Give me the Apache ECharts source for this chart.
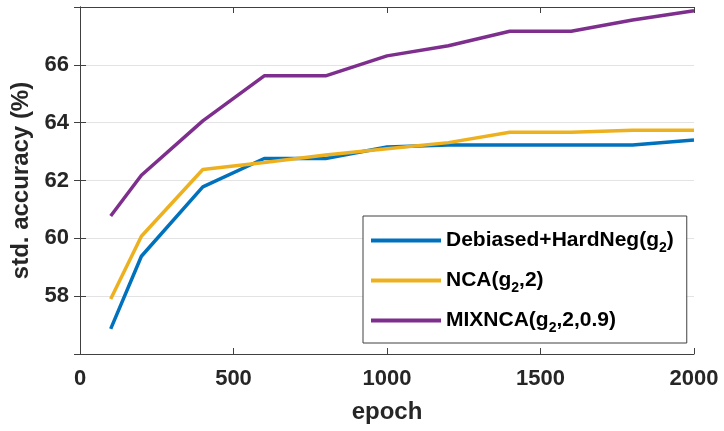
<!DOCTYPE html>
<html>
<head>
<meta charset="utf-8">
<script src="https://cdn.jsdelivr.net/npm/echarts@6/dist/echarts.min.js"></script>
<style>
  html, body { margin: 0; padding: 0; background: #fff; }
  #chart { width: 724px; height: 431px; }
</style>
</head>
<body>
<div id="chart"></div>
<script>
const epochs = [100, 200, 400, 600, 800, 1000, 1200, 1400, 1600, 1800, 2000];
const debiasedHardNeg = [56.87, 59.38, 61.78, 62.76, 62.76, 63.16, 63.23, 63.23, 63.23, 63.23, 63.40];
const nca = [57.90, 60.07, 62.38, 62.62, 62.88, 63.10, 63.31, 63.67, 63.67, 63.74, 63.74];
const mixNca = [60.77, 62.18, 64.06, 65.62, 65.62, 66.31, 66.66, 67.16, 67.16, 67.55, 67.87];

const seriesNames = ['Debiased+HardNeg(g2)', 'NCA(g2,2)', 'MIXNCA(g2,2,0.9)'];
const legendLabels = {
  'Debiased+HardNeg(g2)': '{n|Debiased+HardNeg(g}{s|2}{n|)}',
  'NCA(g2,2)': '{n|NCA(g}{s|2}{n|,2)}',
  'MIXNCA(g2,2,0.9)': '{n|MIXNCA(g}{s|2}{n|,2,0.9)}'
};
const colors = ['#0072BD', '#EDB120', '#7E2F8E'];

const font = 'Liberation Sans, Arial, Helvetica, sans-serif';
const axisColor = '#404040';
const textColor = '#262626';

const chart = echarts.init(document.getElementById('chart'));

function makeSeries(name, values, color) {
  return {
    name: name,
    type: 'line',
    data: epochs.map((e, i) => [e, values[i]]),
    showSymbol: false,
    symbol: 'none',
    lineStyle: { width: 3.5, color: color },
    itemStyle: { color: color },
    z: 3
  };
}

chart.setOption({
  animation: false,
  grid: { left: 80, right: 30, top: 7, bottom: 77 },
  xAxis: [
    {
      type: 'value',
      min: 0,
      max: 2000,
      interval: 500,
      name: 'epoch',
      nameLocation: 'middle',
      nameGap: 46,
      nameTextStyle: { fontFamily: font, fontWeight: 'bold', fontSize: 24, color: textColor },
      axisLine: { show: true, lineStyle: { color: axisColor, width: 1 } },
      axisTick: { show: true, inside: true, length: 6, lineStyle: { color: axisColor } },
      axisLabel: {
        fontFamily: font, fontWeight: 'bold', fontSize: 22, color: textColor, margin: 14,
        formatter: (v) => String(v)
      },
      splitLine: { show: false }
    },
    {
      type: 'value',
      position: 'top',
      min: 0,
      max: 2000,
      interval: 500,
      axisLine: { show: true, lineStyle: { color: axisColor, width: 1 } },
      axisTick: { show: true, inside: true, length: 6, lineStyle: { color: axisColor } },
      axisLabel: { show: false },
      splitLine: { show: false }
    }
  ],
  yAxis: [
    {
      type: 'value',
      min: 56,
      max: 68,
      interval: 2,
      name: 'std. accuracy (%)',
      nameLocation: 'middle',
      nameGap: 43,
      nameTextStyle: { fontFamily: font, fontWeight: 'bold', fontSize: 24, color: textColor },
      axisLine: { show: true, lineStyle: { color: axisColor, width: 1 } },
      axisTick: { show: true, inside: true, length: 6, lineStyle: { color: axisColor } },
      axisLabel: {
        fontFamily: font, fontWeight: 'bold', fontSize: 22, color: textColor, margin: 11,
        formatter: (v) => (v === 56 || v === 68 ? '' : String(v))
      },
      splitLine: { show: true, lineStyle: { color: '#e3e3e3', width: 1 } }
    },
    {
      type: 'value',
      position: 'right',
      min: 56,
      max: 68,
      interval: 2,
      axisLine: { show: true, lineStyle: { color: axisColor, width: 1 } },
      axisTick: { show: true, inside: true, length: 6, lineStyle: { color: axisColor } },
      axisLabel: { show: false },
      splitLine: { show: false }
    }
  ],
  legend: {
    data: seriesNames,
    orient: 'vertical',
    left: 363,
    top: 216,
    padding: [10, 13, 8, 8],
    itemGap: 11,
    itemWidth: 70,
    itemHeight: 4,
    icon: 'rect',
    backgroundColor: '#fff',
    borderColor: axisColor,
    borderWidth: 1,
    borderRadius: 0,
    formatter: (name) => legendLabels[name],
    textStyle: {
      fontFamily: font,
      fontWeight: 'bold',
      fontSize: 21,
      color: '#000',
      rich: {
        n: { fontFamily: font, fontWeight: 'bold', fontSize: 21, lineHeight: 26, color: '#000' },
        s: { fontFamily: font, fontWeight: 'bold', fontSize: 14, lineHeight: 10, padding: [15, 0, 0, 0], color: '#000' }
      }
    }
  },
  series: [
    makeSeries(seriesNames[0], debiasedHardNeg, colors[0]),
    makeSeries(seriesNames[1], nca, colors[1]),
    makeSeries(seriesNames[2], mixNca, colors[2])
  ]
});
</script>
</body>
</html>
